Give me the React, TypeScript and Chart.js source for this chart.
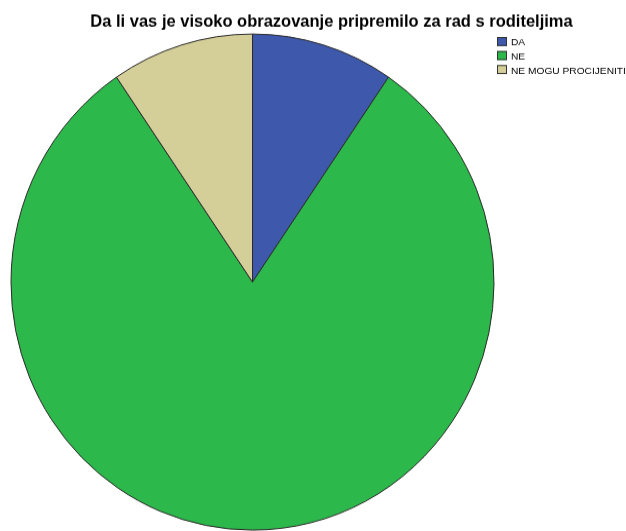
import React, { useEffect, useRef } from "react";
import { Chart, registerables } from "chart.js";

Chart.register(...registerables);

const titleText = "Da li vas je visoko obrazovanje pripremilo za rad s roditeljima";
const categories = ["DA", "NE", "NE MOGU PROCIJENITI"];
const counts = [4, 34, 4];
const colors = ["#3E58AC", "#2DB84B", "#D4CF98"];

const W = 626;
const H_DISPLAY = 531;
const STRETCH = 248 / 241.5;
const H = Math.round(H_DISPLAY / STRETCH);

const overlayPlugin = {
  id: "overlay",
  afterDraw(chart: any) {
    const ctx = chart.ctx as CanvasRenderingContext2D;
    ctx.save();
    ctx.scale(1, 1 / STRETCH);
    // title
    ctx.fillStyle = "#000";
    ctx.font = "bold 16.5px 'Liberation Sans', Arial, sans-serif";
    ctx.textAlign = "center";
    ctx.textBaseline = "alphabetic";
    ctx.fillText(titleText, 331.5, 26.5);
    // legend
    const labels = chart.data.labels as string[];
    const bg = chart.data.datasets[0].backgroundColor as string[];
    ctx.font = "10.2px 'Liberation Sans', Arial, sans-serif";
    ctx.textAlign = "left";
    labels.forEach((lab, i) => {
      const y = 37 + i * 14;
      ctx.fillStyle = bg[i];
      ctx.fillRect(497, y, 10, 9);
      ctx.strokeStyle = "#333";
      ctx.lineWidth = 1;
      ctx.strokeRect(497.5, y + 0.5, 9, 8);
      ctx.fillStyle = "#000";
      ctx.fillText(lab, 511, y + 8.5);
    });
    ctx.restore();
  },
};

export default function App() {
  const ref = useRef<HTMLCanvasElement | null>(null);
  useEffect(() => {
    document.body.style.margin = "0";
    const canvas = ref.current!;
    const cx = 252.5;
    const cy = 282 / STRETCH;
    const r = 242;
    const chart = new Chart(canvas, {
      type: "pie",
      data: {
        labels: categories,
        datasets: [
          {
            data: counts,
            backgroundColor: colors,
            borderColor: "#2a2a2a",
            borderWidth: 1,
          },
        ],
      },
      options: {
        animation: false,
        responsive: false,
        maintainAspectRatio: false,
        layout: {
          padding: {
            left: cx - r,
            right: W - (cx + r),
            top: cy - r,
            bottom: Math.max(0, H - (cy + r)),
          },
        },
        plugins: {
          legend: { display: false },
          title: { display: false },
          tooltip: { enabled: false },
        },
      },
      plugins: [overlayPlugin],
    });
    return () => chart.destroy();
  }, []);
  return (
    <div style={{ position: "absolute", left: 0, top: 0, width: W, height: H_DISPLAY, background: "#fff" }}>
      <canvas
        ref={ref}
        width={W}
        height={H}
        style={{ width: W + "px", height: H_DISPLAY + "px", display: "block" }}
      />
    </div>
  );
}
